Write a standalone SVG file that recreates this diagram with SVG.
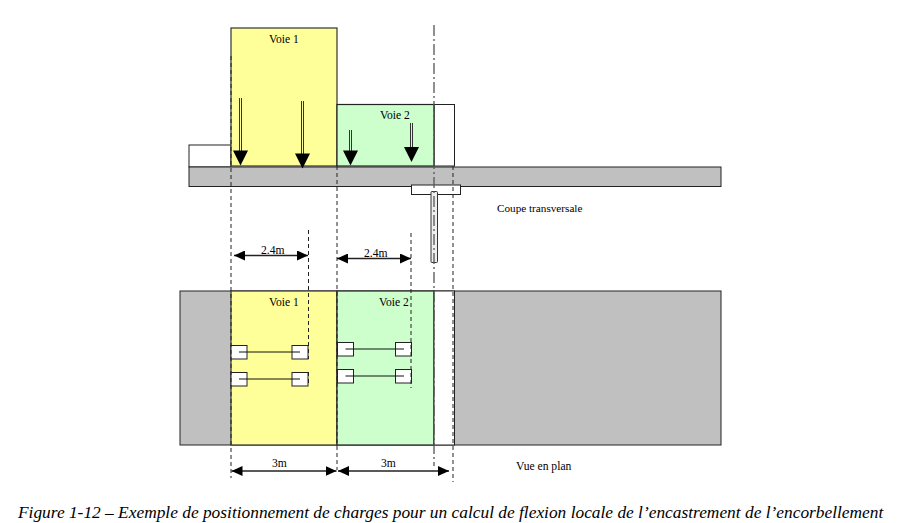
<svg xmlns="http://www.w3.org/2000/svg" width="899" height="523" viewBox="0 0 899 523">
<style>
text{font-family:"Liberation Serif","Times New Roman",serif;fill:#000;font-size:11.6px}
.g{fill:#c0c0c0;stroke:#222;stroke-width:1}
.w{fill:#fff;stroke:#222;stroke-width:1}
.y{fill:#ffff99;stroke:#333;stroke-width:1.2}
.v{fill:#ccffcc;stroke:#222;stroke-width:1.2}
.d{stroke:#222;stroke-width:1;stroke-dasharray:4 3;fill:none}
.c{stroke:#555;stroke-width:1.3;stroke-dasharray:11 3 2 3;fill:none}
.l{stroke:#111;stroke-width:1;fill:none}
.s{stroke:#333;stroke-width:1;fill:none}
.dim{stroke:#222;stroke-width:1.3;fill:none;marker-start:url(#a);marker-end:url(#a)}
</style>
<defs>
<marker id="a" markerUnits="userSpaceOnUse" markerWidth="12" markerHeight="10" refX="11" refY="5" orient="auto-start-reverse"><path d="M0 0L11 5L0 10Z" fill="#000"/></marker>
</defs>
<g id="section-deck"><rect class="w" x="189" y="145" width="42" height="22"/><rect class="g" x="189" y="167" width="532" height="19.500"/></g>
<g id="section-voie1"><rect class="y" x="231" y="28" width="106" height="138"/><text x="269" y="43">Voie 1</text></g>
<g id="section-voie2"><rect class="w" x="434" y="104.500" width="20.500" height="61.500"/><rect class="v" x="337" y="104.500" width="97" height="61.500"/><text x="380" y="119">Voie 2</text></g>
<g id="section-loads">
<path class="s" d="M239.500 98V151M241.500 98V151M301.500 101V154M303.500 101V154M349.500 130V151M351.500 130V151M410.500 123V147M412.500 123V147"/>
<path d="M233 150.500H248L240.500 165.500ZM295 153.500H310L302.500 168.500ZM343 150.500H358L350.500 165.500ZM404 147H419L411.500 162Z" fill="#000"/>
</g>
<g id="section-support"><rect class="w" x="411.500" y="185" width="49" height="9.500"/><rect x="431" y="191.500" width="6.500" height="71" rx="1" fill="#eee" stroke="#333"/></g>
<g id="label-coupe"><text x="497" y="212" style="font-size:11.200px">Coupe transversale</text></g>
<g id="plan-deck"><rect class="g" x="180" y="291" width="541" height="154"/></g>
<g id="plan-voie1"><rect class="y" x="231" y="291" width="106" height="154"/><text x="269" y="306">Voie 1</text></g>
<g id="plan-voie2"><rect class="v" x="337" y="291" width="97" height="154"/><rect class="w" x="434" y="291" width="20.500" height="154"/><text x="379" y="306">Voie 2</text></g>
<g id="plan-wheels">
<rect class="w" x="231" y="345.500" width="16" height="13.500"/><rect class="w" x="292" y="345.500" width="16" height="13.500"/>
<rect class="w" x="231" y="372.500" width="16" height="13.500"/><rect class="w" x="292" y="372.500" width="16" height="13.500"/>
<rect class="w" x="337.500" y="342.500" width="16" height="13.500"/><rect class="w" x="395.500" y="342.500" width="16" height="13.500"/>
<rect class="w" x="337.500" y="369.500" width="16" height="13.500"/><rect class="w" x="395.500" y="369.500" width="16" height="13.500"/>
<path class="l" d="M239 352H300M239 379H300M345.500 349H404M345.500 376H404"/>
</g>
<g id="connectors">
<path class="d" d="M231 56V478M337 166V470M308.500 230V359M308.500 372V386M411 233V388M453 166V482"/>
<path class="c" d="M434 25V466"/>
<path class="dim" d="M234 255.500H308"/>
<path class="dim" d="M337 258.500H411"/>
<path class="dim" d="M231.500 471H336.500"/>
<path class="dim" d="M338 471H449"/>
</g>
<g id="dim-labels"><text x="261" y="254">2.4m</text><text x="364" y="257">2.4m</text><text x="272" y="467">3m</text><text x="381" y="467">3m</text></g>
<g id="label-plan"><text x="516" y="470">Vue en plan</text></g>
<g id="caption"><text x="18" y="518" style="font-size:17.360px;font-style:italic">Figure 1-12 – Exemple de positionnement de charges pour un calcul de flexion locale de l’encastrement de l’encorbellement</text></g>
</svg>
